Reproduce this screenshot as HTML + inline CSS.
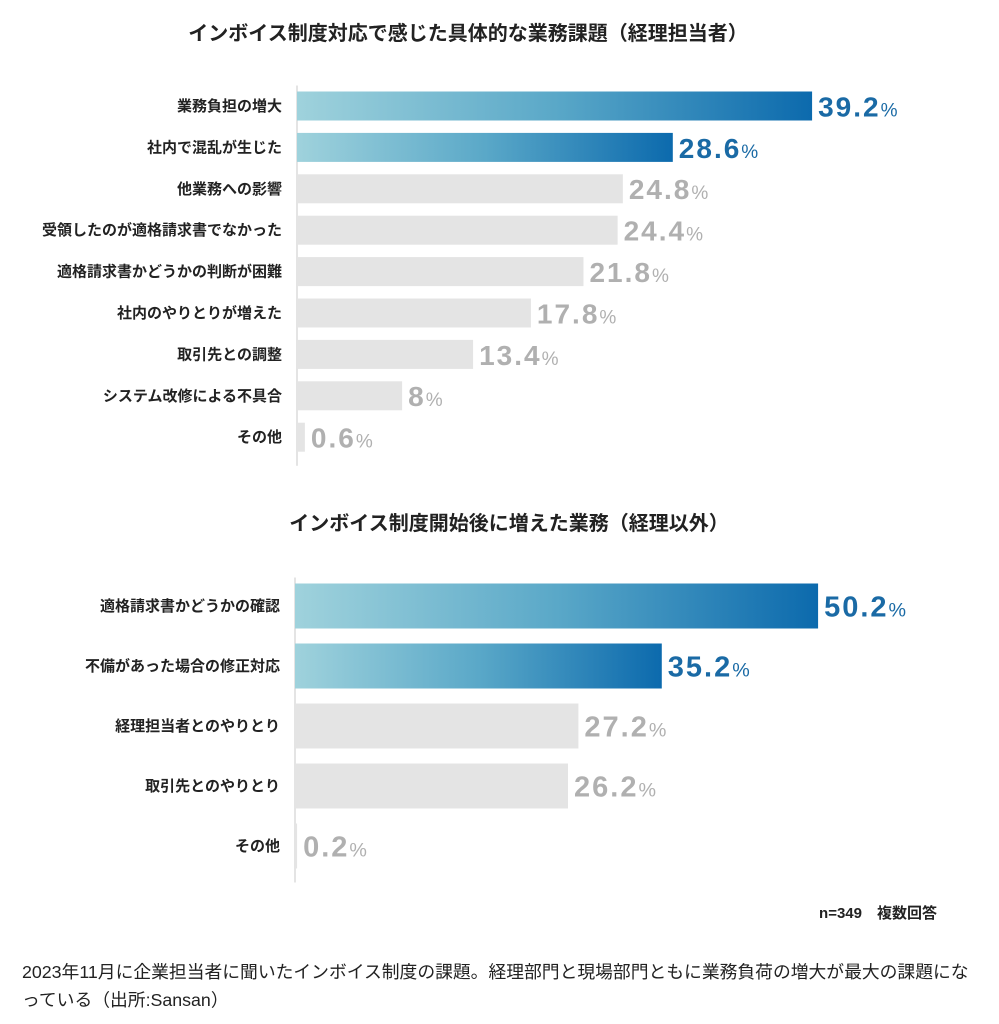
<!DOCTYPE html>
<html><head><meta charset="utf-8">
<style>
body{margin:0;background:#fff;width:999px;height:1024px;overflow:hidden;font-family:"Liberation Sans","Noto Sans CJK JP",sans-serif;}
#cap{position:absolute;left:22px;top:958px;width:975px;font-size:17.8px;line-height:28px;color:#222;white-space:nowrap;}
</style></head><body>
<svg id="chart" width="999" height="940" style="position:absolute;left:0;top:0">
<defs>
<linearGradient id="g" x1="0" x2="1" y1="0" y2="0">
<stop offset="0" stop-color="#9fd2dc"/><stop offset="0.5" stop-color="#5aa8c8"/><stop offset="1" stop-color="#0c6aad"/>
</linearGradient>
</defs>
<text x="468" y="40" text-anchor="middle" font-size="20" font-weight="bold" fill="#222">インボイス制度対応で感じた具体的な業務課題（経理担当者）</text>
<text x="509" y="530" text-anchor="middle" font-size="20" font-weight="bold" fill="#222">インボイス制度開始後に増えた業務（経理以外）</text>
<text x="937" y="918" text-anchor="end" font-size="15" font-weight="bold" fill="#222">n=349　複数回答</text>
</svg>
<div id="cap">2023年11月に企業担当者に聞いたインボイス制度の課題。経理部門と現場部門ともに業務負荷の増大が最大の課題にな<br>っている（出所:Sansan）</div>
<script>
const cats1=["業務負担の増大","社内で混乱が生じた","他業務への影響","受領したのが適格請求書でなかった","適格請求書かどうかの判断が困難","社内のやりとりが増えた","取引先との調整","システム改修による不具合","その他"];
const vals1=[39.2,28.6,24.8,24.4,21.8,17.8,13.4,8,0.6];
const cats2=["適格請求書かどうかの確認","不備があった場合の修正対応","経理担当者とのやりとり","取引先とのやりとり","その他"];
const vals2=[50.2,35.2,27.2,26.2,0.2];
const NS="http://www.w3.org/2000/svg";
const svg=document.getElementById('chart');
function mk(tag,a){const e=document.createElementNS(NS,tag);for(const k in a)e.setAttribute(k,a[k]);svg.appendChild(e);return e;}
function draw(cats,vals,o){
  const x=v=>o.x0+v*o.k;
  const y=i=>o.y0+i*o.step;
  const ax=mk('line',{x1:o.x0,x2:o.x0,y1:o.y0-o.h/2-6,y2:y(cats.length-1)+o.h/2+14,stroke:'#e4e4e4','stroke-width':2});
  
  
  cats.forEach((c,i)=>{
    const hl=i<2;
    const r=mk('rect',{x:o.x0,y:y(i)-o.h/2,width:Math.max(x(vals[i])-o.x0,1),height:o.h,fill:hl?'url(#g)':'#e4e4e4'});
    
    
    const l=mk('text',{x:o.x0-15,y:y(i)+5,'text-anchor':'end','font-size':15,'font-weight':'bold',fill:'#222'});
    l.textContent=c;
    
    
    const t=mk('text',{x:x(vals[i])+6,y:y(i)+o.fs*0.37,'font-size':o.fs,'font-weight':'bold','letter-spacing':2,fill:hl?'#1a6aa5':'#b0b0b0'});
    t.textContent=vals[i];
    const s=document.createElementNS(NS,'tspan');s.setAttribute('font-size',o.fs*0.68);s.setAttribute('font-weight','normal');s.setAttribute('letter-spacing',0);s.textContent='%';t.appendChild(s);
    
    
  });
}
draw(cats1,vals1,{p:'chart1',x0:297,k:13.14,y0:106,step:41.4,h:29,fs:28});
draw(cats2,vals2,{p:'chart2',x0:295,k:10.42,y0:606,step:60,h:45,fs:29});
</script>
</body></html>
